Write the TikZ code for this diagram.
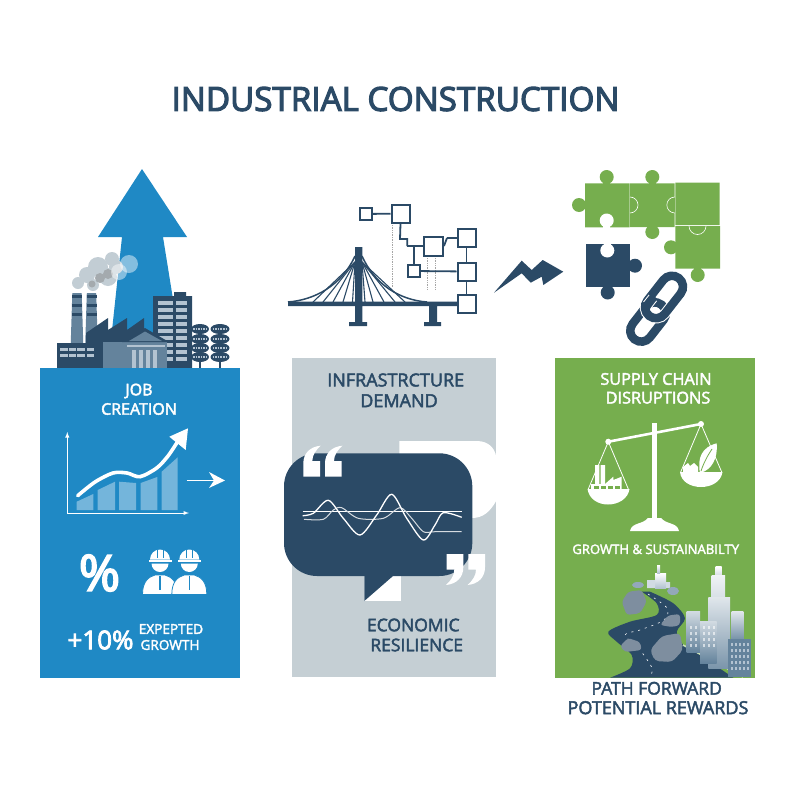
\documentclass[tikz,border=0pt]{standalone}
\usepackage{fontspec}
\setmainfont{Open Sans}
\usetikzlibrary{arrows,calc,positioning}

\definecolor{navy}{HTML}{2B4A66}
\definecolor{steel}{HTML}{64839C}
\definecolor{pale}{HTML}{B3C3D1}
\definecolor{blueP}{HTML}{1F89C5}
\definecolor{greyP}{HTML}{C5CFD4}
\definecolor{greenP}{HTML}{76AE4E}
\definecolor{smoke}{HTML}{C2CDD4}
\definecolor{rock}{HTML}{7E8E9F}

\tikzset{
  lbl/.style={inner sep=0pt, font=\fontsize{#1}{#1}\selectfont\addfontfeature{FakeBold=2.5}},
  lbl/.default=15,
  dark/.style={lbl=#1, text=navy},
  light/.style={lbl=#1, text=white},
  box/.style={draw=navy, line width=2pt, fill=white, minimum size=#1, inner sep=0pt},
  conn/.style={draw=navy, line width=1.8pt},
  dots/.style={draw=gray!70, line width=.7pt, densely dotted},
  axis/.style={draw=white, line width=.9pt, ->, >=latex},
  bar/.style={fill=white, fill opacity=.38},
  seam/.style={draw=white, line width=.6pt, fill=greenP},
  blob/.style={fill=navy},
  twig/.style={draw=pale, line width=1.6pt, dash pattern=on 1.6pt off 1pt},
  linkring/.style={line width=#1, rounded corners=11pt},
}
\newcommand{\quotemark}{(0,0) -- (16.7,0) -- (16.7,-15.7) -- (9,-15.7) .. controls (9,-21.7) and (12.7,-26.7) .. (17.3,-31) .. controls (6.7,-30) and (0,-23.3) .. (0,-13.3) -- cycle}

\begin{document}
\begin{tikzpicture}[x=1pt,y=-1pt]
  \useasboundingbox (0,0) rectangle (800,800);
  \node (title) [dark=33.2] at (395.5,99) {\addfontfeature{FakeBold=3.5}INDUSTRIAL CONSTRUCTION};

  % arrow and factory
  \fill[blueP] (142,169) -- (187,237) -- (163,237) -- (172.5,296) -- (175,368) -- (108,368) -- (122,237) -- (98,237) -- cycle;
  \foreach \cx/\cy/\r in {112/259/7,98/267/10,87/275/8,78/283/6,93/285/6,108/277/9,116/267/7}
    \fill[smoke] (\cx,\cy) circle (\r);
  \foreach \cx/\cy/\r in {100/278/5,108/274/5,92/284/3.5}
    \fill[gray!45!smoke] (\cx,\cy) circle (\r);
  \fill[white, fill opacity=.45] (129,264) circle (9);
  \fill[white, fill opacity=.45] (119,272) circle (8);
  \foreach \lx in {0,14.5} {
    \fill[steel] (72.3+\lx,293) -- (81.7+\lx,293) -- (83.3+\lx,345) -- (70.7+\lx,345) -- cycle;
    \foreach \ly in {296,305,314}
      \fill[navy] (72+\lx,\ly-1.5) rectangle (82+\lx,\ly+1.5);
  }
  \fill[navy] (86,333) -- (108,318) -- (108,330) -- (127,318) -- (127,330) -- (144,318) -- (144,335) -- (150,368) -- (86,368) -- cycle;
  \fill[steel] (103,342) rectangle (126,368);
  \fill[navy] (57,343) rectangle (103,368);
  \foreach \wx in {60,68.5,77,86.5} \foreach \wy in {348,353.5}
    \fill[pale] (\wx,\wy) rectangle +(7.5,3);
  \fill[navy] (153,296) rectangle (192,368) (174,292) rectangle (186,297);
  \foreach \wy in {301,308,315,322,329,336,343,350,357} {
    \fill[pale] (158,\wy) rectangle +(15,3.5);
    \fill[pale] (176,\wy) rectangle +(10.5,3.5);
  }
  \fill[steel] (125,342) rectangle (167,368);
  \fill[navy] (122,342) -- (145,328) -- (169,342) -- cycle;
  \fill[steel] (129,341) -- (145,331.5) -- (162,341) -- cycle;
  \fill[pale] (127,345) rectangle (165,347);
  \foreach \wx in {132,139,146,153}
    \fill[pale] (\wx,350) rectangle +(3.5,18);
  \foreach \tx/\rx in {200/9,220/9.5} {
    \draw[navy, line width=1.4pt] (\tx,324) -- (\tx,368);
    \foreach \ty in {329,339,348,357} {
      \fill[blob] (\tx,\ty) ellipse ({\rx} and 5);
      \draw[twig] (\tx-\rx+2,\ty) -- (\tx+\rx-2,\ty);
    }
  }

  % panels
  \fill[blueP] (40,368) rectangle (240,678);
  \fill[greyP] (291.7,357.7) rectangle (495.7,676.7);
  \fill[greenP] (555,357.7) rectangle (755,677.7);

  % bridge and flow boxes
  \draw[dots] (392.7,225) -- (392.7,287) (427,258) -- (427,290) (435,258) -- (435,290);
  \fill[navy] (288,301.7) rectangle (460,306) (355,247) rectangle (362.3,322)
    (349,322) rectangle (367,326) (429,306) rectangle (437,322) (424,322) rectangle (441,326);
  \draw[navy, line width=1.5pt] (355,256) .. controls (342,285) and (315,300) .. (288,302)
    (362,256) .. controls (375,285) and (400,300) .. (427,302);
  \foreach \hx in {313,323,333,343,352.5}
    \draw[navy, line width=1.1pt] (355,262) -- (\hx,302);
  \foreach \hx in {365,373,384,395,405}
    \draw[navy, line width=1.1pt] (362,262) -- (\hx,302);
  \node (fa) [box=12pt] at (366,214) {};
  \node (fb) [box=18pt] at (400.5,213.5) {};
  \node (fc) [box=19pt] at (433.5,246) {};
  \node (fd) [box=18pt] at (466.5,238) {};
  \node (fe) [box=12pt] at (414,271) {};
  \node (ff) [box=18pt] at (466.5,271.5) {};
  \node (fg) [box=18pt] at (466.5,303.5) {};
  \coordinate (fs1) at (400,239);
  \coordinate (fs2) at (407.3,239);
  \coordinate (fs3) at (407.3,246);
  \coordinate (fs4) at (414,246);
  \coordinate (fs5) at (447,238);
  \path[conn]
  (fa) edge (fb)
  (fe) edge (ff)
  (fd) edge (ff)
  (ff) edge (fg)
  (fs4) edge (fe)
  (fs3) edge (fc)
  (fs5) edge (fd)
  (fc.east) edge (fs5);
  \draw[conn] (fb.south) -- (fs1) -- (fs2) -- (fs3);

  % bolt
  \fill[navy] (494,292.7) -- (521.7,260.7) -- (531.7,270) -- (542.7,260) -- (563.3,271.7) -- (543.3,285) -- (541.7,276.7) -- (530.7,282.7) -- (521.7,273.3) -- cycle;

  % puzzle
  \fill[greenP] (585,183.3) rectangle (629.5,227.3) (630,183.3) rectangle (674.5,227) (675.3,182.7) rectangle (719.7,225) (675.3,226) rectangle (720,268.7);
  \foreach \kx/\ky/\nx/\ny in {606.7/177/606.7/185,652.3/177/652.3/185,579/205/587/205,652.3/232/652.3/226,671/247.3/677/247.3,697.7/275/697.7/267} {
    \fill[greenP] (\kx,\ky) circle (7);
    \draw[greenP, line width=7pt] (\kx,\ky) -- (\nx,\ny);
  }
  \fill[white] (606.7,220.5) circle (7);
  \fill[white] (603,222) rectangle (610.4,228);
  \draw[seam] (630,213) arc (90:-90:8);
  \draw[seam] (674.8,213) arc (90:270:8);
  \draw[seam] (689,226) arc (180:0:8.5);
  \fill[navy] (585.7,244) rectangle (630,287.3);
  \fill[navy] (635,265.7) circle (7);
  \fill[navy] (607.7,292.5) circle (7);
  \draw[navy, line width=7pt] (635,265.7) -- (628,265.7) (607.7,292.5) -- (607.7,286);
  \fill[white] (607.3,250.5) circle (7);
  \fill[white] (603.8,243) rectangle (610.8,250);

  % chain
  \begin{scope}[shift={(648,322)},rotate=52]
    \draw[navy, linkring=8.5pt] (-22,-11) rectangle (22,11);
  \end{scope}
  \begin{scope}[shift={(664,297)},rotate=52]
    \draw[white, linkring=10.5pt] (-24,-11) rectangle (24,11);
    \draw[navy, linkring=8.5pt] (-24,-11) rectangle (24,11);
  \end{scope}
  \begin{scope}[shift={(648,322)},rotate=52]
    \draw[white, line width=10.5pt] (13,-11) -- (22,-11);
    \draw[navy, line width=8.5pt] (11,-11) -- (24,-11);
  \end{scope}

  % job creation
  \node (jobA) [light=16] at (139,391) {JOB};
  \node (jobB) [light=16] at (139,409) {CREATION};
  \fill[bar] (76.7,510) -- (76.7,501.7) -- (93.3,494) -- (93.3,510) -- cycle;
  \fill[bar] (97.7,510) -- (97.7,490) -- (115,481.7) -- (115,510) -- cycle;
  \fill[bar] (119,510) -- (119,481.7) -- (136,483) -- (136,510) -- cycle;
  \fill[bar] (140.7,510) -- (140.7,483) -- (157.3,477) -- (157.3,510) -- cycle;
  \fill[bar] (161.7,510) -- (161.7,471.7) -- (177.7,457.3) -- (177.7,510) -- cycle;
  \coordinate (org) at (67.3,513);
  \coordinate (ytop) at (67.3,432);
  \coordinate (xend) at (189,513);
  \draw[axis] (org) -- (ytop);
  \draw[axis] (org) -- (xend);
  \draw[white, line width=3.6pt, line cap=round] plot[smooth] coordinates {(77.7,495.7) (95,482) (113,473) (127,473) (140,476.7) (156.7,468) (168,456) (178,441)};
  \fill[white] (169.3,436.7) -- (188,428.3) -- (185.7,450) -- cycle;
  \draw[white, line width=1.6pt] (186.7,480.5) -- (222,480.5);
  \fill[white] (209,472) -- (225,480.5) -- (209,488) -- (214,480.5) -- cycle;
  \node (pct) [light=50] at (99.5,573) {\addfontfeature{FakeBold=3.5}\%};
  \foreach \wx in {160,189.3} {
    \fill[white, draw=blueP, line width=.8pt] (\wx-17.5,594.5) .. controls (\wx-17.5,582) and (\wx-12,577) .. (\wx-5,575) -- (\wx+5,575) .. controls (\wx+12,577) and (\wx+17.5,582) .. (\wx+17.5,594.5) -- cycle;
    \draw[blueP, line width=1.6pt] (\wx,576) -- (\wx,590);
    \fill[white] (\wx-8.5,563.5) arc (180:0:8.5);
    \fill[white] (\wx-10,559.5) arc (180:360:10) -- cycle;
    \fill[white] (\wx-11.5,559.5) rectangle (\wx+11.5,562);
    \draw[blueP, line width=.7pt] (\wx-3,550) -- (\wx-3,558) (\wx+3,550) -- (\wx+3,558);
  }
  \node (plus) [light=26] at (100.5,640) {\addfontfeature{FakeBold=3}+10\%};
  \node (expA) [light=13.6] at (171,629) {EXPEPTED};
  \node (expB) [light=13.6] at (170,645) {GROWTH};

  % infrastructure
  \node (infA) [dark=18] at (395.7,380) {INFRASTRCTURE};
  \node (infB) [dark=18] at (399,400.7) {DEMAND};
  \fill[white] (399.3,441) -- (476.7,441) .. controls (490,441) and (496.7,450) .. (496.7,461.7) -- (496.7,500) .. controls (490,512) and (483,518) .. (471.7,518) -- (399.3,518) -- cycle;
  \fill[white] (364.3,601) -- (400.7,601) -- (400.7,570) -- (364.3,570) -- cycle;
  \fill[navy, rounded corners=33pt] (284,453.3) rectangle (472.3,576);
  \fill[navy] (364.3,570) -- (364.3,601) -- (393,576) -- (393,570) -- cycle;
  \foreach \qx in {303.3,325}
    \fill[white, shift={(\qx,476.7)}] \quotemark;
  \foreach \qx in {463.3,485}
    \fill[white, shift={(\qx,554)}, rotate=180] \quotemark;
  \draw[white, line width=1.3pt] (302.7,511.7) -- (461.7,511.7);
  \draw[white!80!navy, line width=1pt] plot[smooth] coordinates {(304,519.3) (323.3,519.3) (333.3,510) (341.7,507.7) (358.3,518.3) (383.3,518.3) (400,507.7) (411.7,518.3) (423.3,531.7) (435,531.7) (461.7,531.7)};
  \draw[white, line width=1.3pt] plot[smooth] coordinates {(302.7,515.7) (313.3,513.3) (328.3,500.3) (343.3,518.3) (360,535) (376.7,515) (391.7,494.3) (406.7,518.3) (423.3,540) (435,525) (443.3,512.7) (461.7,517.3)};
  \node (ecoA) [dark=17.5] at (413.3,625) {ECONOMIC};
  \node (ecoB) [dark=17.5] at (416.7,645) {RESILIENCE};

  % supply chain
  \node (supA) [light=16.3] at (656,379) {SUPPLY CHAIN};
  \node (supB) [light=16.3] at (658,397.7) {DISRUPTIONS};
  \fill[white] (651.7,423) rectangle (657.3,520);
  \fill[white] (630,531) .. controls (632,522) and (642,525) .. (648,518) -- (661,518) .. controls (667,525) and (677,522) .. (679,531) -- cycle;
  \draw[white, line width=2.6pt] (608.3,441.7) -- (701,424);
  \fill[white] (608.3,441.7) circle (3);
  \fill[white] (701,424) circle (3);
  \draw[white, line width=.8pt] (588.3,489) -- (608.3,441.7) -- (628.3,489) (680.7,472) -- (701,424) -- (721.7,472);
  \fill[white] (587.5,489) .. controls (589,499) and (598,504.5) .. (608,504.5) .. controls (618,504.5) and (628,499) .. (629.5,489) -- cycle;
  \fill[white] (680,472) .. controls (681,482) and (691,487) .. (701,487) .. controls (711,487) and (721,482) .. (722.5,472) -- cycle;
  \fill[white] (595,465) rectangle (599.3,486) (600.5,465) rectangle (605,486);
  \fill[white] (591,490) -- (591,484) -- (605,484) -- (613.3,476.7) -- (613.3,480) -- (621.7,476.7) -- (621.7,490) -- cycle;
  \foreach \wx in {594,601,608,615}
    \fill[greenP] (\wx,485.5) rectangle +(4.5,3.5);
  \fill[white] (683,473) -- (683,467) -- (688,463) -- (690,466) -- (694,463) -- (698,467) -- (698,473) -- cycle;
  \fill[white] (700,473) .. controls (697,458) and (702,447) .. (716.7,443.3) .. controls (718,458) and (712,470) .. (700,473) -- cycle;
  \draw[greenP, line width=.8pt] (701,471) .. controls (704,462) and (708,455) .. (712,449);
  \node (grow) [light=13.1] at (655.7,549.3) {GROWTH \& SUSTAINABILTY};

  % road and skyline
  \shade[top color=white, bottom color=pale] (655,588) rectangle (666,573);
  \shade[top color=white, bottom color=pale] (657,573) rectangle (660,565);
  \fill[white!40!pale] (647,588) rectangle (655,580) (666,588) rectangle (670,582);
  \fill[steel!70] (638,585) ellipse (6 and 3);
  \fill[steel!70] (673,591) ellipse (6 and 4);
  \fill[navy] plot[smooth] coordinates {(641.7,591.7) (656.7,603.3) (656.7,615) (630,621.7) (608.3,631.7) (616.7,641.7) (631.7,655) (630,668.3) (610,677.7)}
    -- plot[smooth] coordinates {(733.3,677.7) (700,655) (683.3,645) (676.7,631.7) (685,618.3) (673.3,603.3) (650,591.7)} -- cycle;
  \draw[white, line width=.6pt, dash pattern=on 2pt off 5pt] plot[smooth] coordinates {(648,594) (667,608) (664,620) (640,630) (625,635) (640,650) (652,668) (650,677)};
  \fill[rock, rounded corners=3pt] (621.7,601.7) -- (628.3,591.7) -- (641.7,590) -- (646.7,601.7) -- (640,613.3) -- (626.7,615) -- cycle;
  \fill[rock, rounded corners=3pt] (660,625) -- (668,615.5) -- (680,614) -- (680,625) -- (672,627) -- cycle;
  \fill[rock, rounded corners=3pt] (620,646) -- (628,638) -- (640,642) -- (641.7,650) -- (625,652) -- cycle;
  \fill[rock, rounded corners=4pt] (650,650) -- (662,636) -- (680,633) -- (683,650) -- (672,662) -- (655,661) -- cycle;
  \draw[white!60!greenP, line width=1.6pt] (683,645) -- (743,677);
  \shade[top color=white, bottom color=white!75!steel] (715.7,566.7) rectangle (721.7,575);
  \shade[top color=white!90!steel, bottom color=white!75!steel] (711.7,575) rectangle (725,597);
  \shade[top color=white!80!steel, bottom color=steel!85] (708.3,597) rectangle (730,668);
  \shade[top color=white!70!steel, bottom color=steel] (686.7,611.7) rectangle (700,652);
  \shade[top color=white!70!steel, bottom color=steel] (700,621.7) rectangle (716.7,663);
  \shade[top color=white!80!steel, bottom color=steel!90] (731.7,611.7) rectangle (743.3,640);
  \fill[steel] (728.3,639) rectangle (751,676.7);
  \foreach \wx in {731,735,739,743,747} \foreach \wy in {643,649,655,661,667}
    \fill[pale] (\wx,\wy) rectangle +(2,2.5);
  \foreach \wx in {690,695,703,708,713} \foreach \wy in {626,632,638,644}
    \fill[white, fill opacity=.6] (\wx,\wy) rectangle +(2,2.5);
  \node (pathA) [dark=17.5] at (656.7,688.3) {PATH FORWARD};
  \node (pathB) [dark=18] at (658,707.7) {POTENTIAL REWARDS};
\end{tikzpicture}
\end{document}
